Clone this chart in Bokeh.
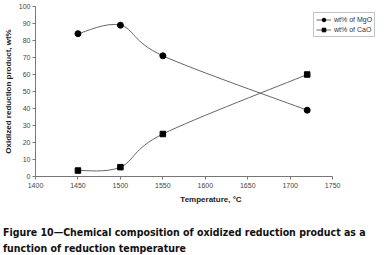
from bokeh.plotting import figure
from bokeh.models import Legend, LegendItem, Title, FixedTicker, Range1d, Div
from bokeh.layouts import column
from bokeh.embed import file_html
from bokeh.resources import INLINE

temperature = [1450, 1500, 1550, 1720]
mgo = [84, 89, 71, 39]
cao = [3.5, 5.5, 25, 60]
x_ticks = [1400, 1450, 1500, 1550, 1600, 1650, 1700, 1750]
y_ticks = [0, 10, 20, 30, 40, 50, 60, 70, 80, 90, 100]
series_names = ["wt% of MgO", "wt% of CaO"]
x_title = "Temperature, \u00b0C"
y_title = "Oxidized reduction product, wt%"
caption_lines = ["Figure 10\u2014Chemical composition of oxidized reduction product as a",
                 "function of reduction temperature"]


def smooth_segments(xs, ys):
    # Catmull-Rom style bezier control points (like a smoothed spreadsheet line)
    n = len(xs)
    seg = dict(x0=[], y0=[], x1=[], y1=[], cx0=[], cy0=[], cx1=[], cy1=[])
    for i in range(n - 1):
        ip = max(i - 1, 0)
        inx = min(i + 2, n - 1)
        seg["x0"].append(xs[i]); seg["y0"].append(ys[i])
        seg["x1"].append(xs[i + 1]); seg["y1"].append(ys[i + 1])
        seg["cx0"].append(xs[i] + (xs[i + 1] - xs[ip]) / 6)
        seg["cy0"].append(ys[i] + (ys[i + 1] - ys[ip]) / 6)
        seg["cx1"].append(xs[i + 1] - (xs[inx] - xs[i]) / 6)
        seg["cy1"].append(ys[i + 1] - (ys[inx] - ys[i]) / 6)
    return seg


x_min, x_max = x_ticks[0], x_ticks[-1]
px_per_unit = (332 - 34) / (x_max - x_min)
x_view_max = x_min + (386 - 34) / px_per_unit

p = figure(width=387, height=212, output_backend="svg", toolbar_location=None,
           x_range=Range1d(x_min, x_view_max), y_range=Range1d(0, 100),
           min_border_left=34, min_border_right=1, min_border_top=6, min_border_bottom=36,
           margin=(0, 0, 0, 0))
p.outline_line_color = None
p.xgrid.visible = False
p.ygrid.visible = False
p.background_fill_color = "white"
p.border_fill_color = "white"

line_color = "#666666"
items = []
for ys, marker, name in [(mgo, "circle", series_names[0]), (cao, "square", series_names[1])]:
    seg = smooth_segments(temperature, ys)
    br = p.bezier(source=seg, x0="x0", y0="y0", x1="x1", y1="y1",
                  cx0="cx0", cy0="cy0", cx1="cx1", cy1="cy1",
                  line_color=line_color, line_width=1)
    sz = 6 if marker == "circle" else 5.5
    sr = p.scatter(temperature, ys, marker=marker, size=sz, fill_color="black", line_color="black")
    items.append(LegendItem(label=name, renderers=[br, sr], index=0))

legend = Legend(items=items, location=(278, 139), margin=0, padding=2, spacing=1,
                label_standoff=3, glyph_width=15, glyph_height=9, label_height=9,
                label_text_font_size="7px", label_text_font="Liberation Sans",
                label_text_color="#333333", border_line_color="#888888",
                border_line_width=1, background_fill_alpha=1)
p.add_layout(legend, "center")

for ax in (p.xaxis[0], p.yaxis[0]):
    ax.axis_line_color = "#777777"
    ax.major_tick_line_color = "#777777"
    ax.minor_tick_line_color = None
    ax.major_tick_in = 0
    ax.major_tick_out = 3
    ax.major_label_text_font_size = "7px"
    ax.major_label_text_font = "Liberation Sans"
    ax.major_label_text_color = "#444444"
    ax.axis_label_text_font = "Liberation Sans"
    ax.axis_label_text_font_style = "bold"
    ax.axis_label_text_font_size = "8px"
    ax.axis_label_text_color = "#222222"

p.xaxis.ticker = FixedTicker(ticks=x_ticks)
p.xaxis.bounds = (x_min, x_max)
p.yaxis.ticker = FixedTicker(ticks=y_ticks)
p.xaxis.major_label_standoff = 3
p.yaxis.major_label_standoff = 2
p.yaxis.axis_label = y_title
p.yaxis.axis_label_standoff = 3

# x-axis title centred under the bounded axis (1400-1750), not under the wider frame
p.add_layout(Title(text=x_title, align="center", offset=-27, standoff=4,
                   text_font="Liberation Sans", text_font_style="bold",
                   text_font_size="8px", text_color="#222222"), "below")

caption = Div(text="<br>".join(caption_lines), width=387, height=43, margin=(0, 0, 0, 0),
              styles={"font-family": "'DejaVu Sans Condensed', 'DejaVu Sans'",
                      "font-stretch": "condensed", "font-weight": "bold",
                      "font-size": "10.5px", "line-height": "15.5px", "color": "#111111",
                      "padding-top": "13px", "padding-left": "3px",
                      "box-sizing": "border-box", "white-space": "nowrap"})

layout = column(p, caption, spacing=0, margin=(0, 0, 0, 0))
open("out.html", "w").write(file_html(layout, INLINE))
